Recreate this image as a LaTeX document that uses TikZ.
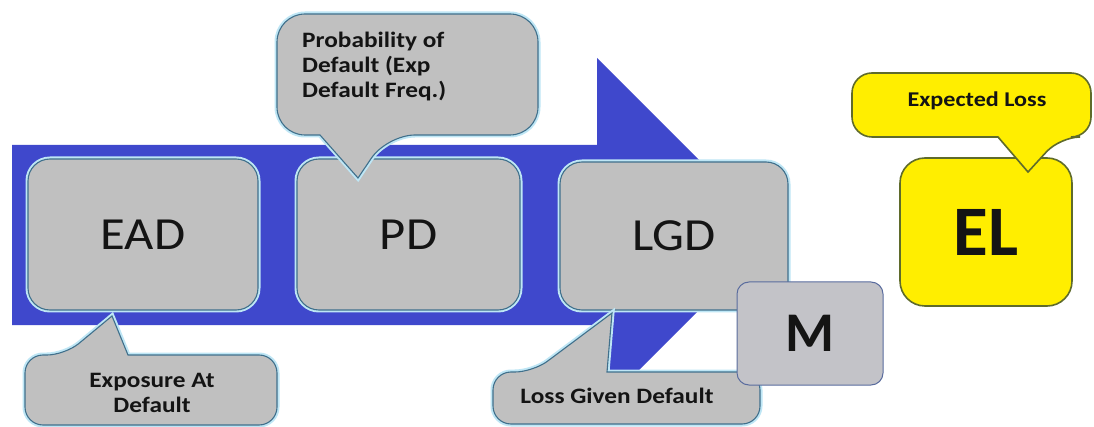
\documentclass[tikz,border=0pt]{standalone}
\usepackage{fontspec}
\setmainfont{Carlito}
\newfontfamily\bigf[FakeStretch=1.1]{Carlito}
\newfontfamily\callf[FakeStretch=1.15]{Carlito}
\definecolor{arrowblue}{RGB}{63,72,204}
\definecolor{boxgray}{RGB}{192,192,192}
\definecolor{glowblue}{RGB}{190,230,245}
\definecolor{edgeteal}{RGB}{64,112,140}
\definecolor{mgray}{RGB}{195,195,200}
\definecolor{medge}{RGB}{90,108,158}
\definecolor{elyellow}{RGB}{255,238,0}
\definecolor{eledge}{RGB}{95,107,43}
\definecolor{txt}{RGB}{20,20,20}
\tikzset{
  glowline/.style={preaction={draw=glowblue,line width=5pt}},
  graybox/.style={glowline,draw=edgeteal,line width=1.1pt,fill=boxgray,
    rounded corners=22pt,inner sep=0pt,text=txt,
    font=\bigf\fontsize{46}{50}\selectfont},
  calloutshape/.style={glowline,draw=edgeteal,line width=1.1pt,fill=boxgray},
  calltext/.style={inner sep=0pt,text=txt,font=\callf\bfseries\fontsize{22}{25}\selectfont},
  mbox/.style={draw=medge,line width=1pt,fill=mgray,rounded corners=12pt,
    inner sep=0pt,text=txt,font=\bfseries\fontsize{56}{60}\selectfont},
  yellowbox/.style={draw=eledge,line width=1.6pt,fill=elyellow,rounded corners=25pt,
    inner sep=0pt,text=txt,font=\bfseries\fontsize{71}{75}\selectfont},
  yellowcallout/.style={draw=eledge,line width=1.6pt,fill=elyellow},
}
\begin{document}
\begin{tikzpicture}[x=1pt,y=-1pt]
\useasboundingbox[fill=white] (0,0) rectangle (1094,427);

% big blue arrow
\fill[arrowblue] (12,145) -- (597,145) -- (597,58) -- (774,235) -- (597,412)
  -- (597,325) -- (12,325) -- cycle;

% main boxes
\node[graybox,minimum width=230pt,minimum height=151pt] (ead) at (143,234.5) {EAD};
\node[graybox,minimum width=223pt,minimum height=151pt] (pd) at (408.5,234.5) {PD};
\node[graybox,minimum width=228pt,minimum height=148pt] (lgd) at (674,236) {LGD};

% PD callout
\coordinate (pdtip) at (358,178);
\draw[calloutshape] (pdtip) -- (320,135) [rounded corners=28pt] -- (277,135)
  -- (277,14) -- (538,14) -- (538,135) -- (387,135) [sharp corners] -- cycle;
\node[calltext,anchor=west,align=left] (pdtext) at (302,67)
  {Probability of\\Default (Exp\\Default Freq.)};

% EAD callout
\coordinate (eadtip) at (112,316);
\draw[calloutshape] (eadtip) -- (128,355) [rounded corners=18pt] -- (277,355)
  -- (277,425) -- (25,425) -- (25,355) -- (65,355) [sharp corners] -- cycle;
\node[calltext,align=center] (eadtext) at (152,392.5) {Exposure At\\Default};

% LGD callout
\coordinate (lgdtip) at (612,313);
\draw[calloutshape] (lgdtip) -- (607,372) [rounded corners=18pt] -- (760,372)
  -- (760,424) -- (493,424) -- (493,372) -- (533,372) [sharp corners] -- cycle;
\node[calltext,anchor=base] (lgdtext) at (617,403) {Loss Given Default};

% M box
\node[mbox,minimum width=146pt,minimum height=103pt] (m) at (810,333.5) {M};

% EL box
\node[yellowbox,minimum width=172pt,minimum height=148pt] (el) at (986,232) {EL};

% EL callout
\coordinate (eltip) at (1028,172);
\draw[yellowcallout] (eltip) -- (998,137) [rounded corners=20pt] -- (852,137)
  -- (852,73) -- (1091,73) -- (1091,137) -- (1060,137) [sharp corners] -- cycle;
\node[calltext,font=\callf\bfseries\fontsize{21}{24}\selectfont,anchor=base] (eltext) at (977,107) {Expected Loss};
\end{tikzpicture}
\end{document}
